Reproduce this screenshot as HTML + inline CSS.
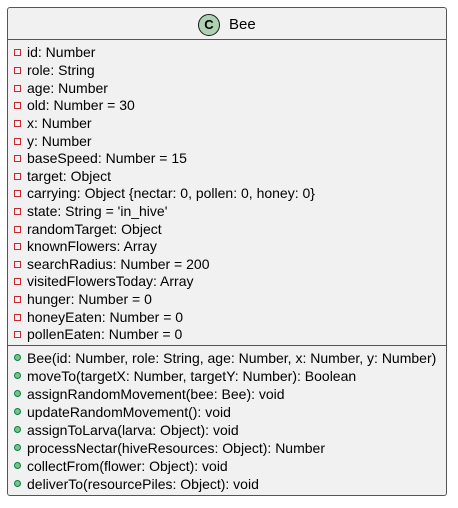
<!DOCTYPE html>
<html><head><meta charset="utf-8"><style>
html,body{margin:0;padding:0;background:#fff;width:458px;height:508px;overflow:hidden}
.box{position:absolute;left:7px;top:7px;width:440px;height:489px;background:#F1F1F1;border:1px solid #555;border-radius:3px;box-sizing:border-box}
.hr{position:absolute;left:8px;width:438px;height:1px;background:#555}
.t{position:absolute;left:27px;font:14px "Liberation Sans",sans-serif;color:#000;white-space:nowrap;line-height:16px}
.f::before{content:"";position:absolute;left:-13px;top:5px;width:5px;height:5px;border:1px solid #C82930}
.m::before{content:"";position:absolute;left:-13px;top:4px;width:7px;height:7px;border-radius:50%;background:#84BE84;border:0.5px solid #038048;box-sizing:border-box}
</style></head><body>
<div class="box"></div>
<div style="position:absolute;left:198px;top:14px;width:22px;height:22px;border-radius:50%;background:#ADD1B2;border:1px solid #181818;box-sizing:border-box;font:bold 13px 'Liberation Sans',sans-serif;text-align:center;line-height:20px">C</div>
<div style="position:absolute;left:229px;top:16px;font:15px 'Liberation Sans',sans-serif">Bee</div>
<div class="hr" style="top:39px"></div>
<div class="hr" style="top:345px"></div>
<div class="t f" style="top:44px">id: Number</div>
<div class="t f" style="top:62px">role: String</div>
<div class="t f" style="top:80px">age: Number</div>
<div class="t f" style="top:97px">old: Number = 30</div>
<div class="t f" style="top:115px">x: Number</div>
<div class="t f" style="top:133px">y: Number</div>
<div class="t f" style="top:150px">baseSpeed: Number = 15</div>
<div class="t f" style="top:168px">target: Object</div>
<div class="t f" style="top:185px">carrying: Object {nectar: 0, pollen: 0, honey: 0}</div>
<div class="t f" style="top:203px">state: String = 'in_hive'</div>
<div class="t f" style="top:221px">randomTarget: Object</div>
<div class="t f" style="top:238px">knownFlowers: Array</div>
<div class="t f" style="top:256px">searchRadius: Number = 200</div>
<div class="t f" style="top:273px">visitedFlowersToday: Array</div>
<div class="t f" style="top:291px">hunger: Number = 0</div>
<div class="t f" style="top:309px">honeyEaten: Number = 0</div>
<div class="t f" style="top:326px">pollenEaten: Number = 0</div>
<div class="t m" style="top:350px">Bee(id: Number, role: String, age: Number, x: Number, y: Number)</div>
<div class="t m" style="top:368px">moveTo(targetX: Number, targetY: Number): Boolean</div>
<div class="t m" style="top:386px">assignRandomMovement(bee: Bee): void</div>
<div class="t m" style="top:404px">updateRandomMovement(): void</div>
<div class="t m" style="top:422px">assignToLarva(larva: Object): void</div>
<div class="t m" style="top:440px">processNectar(hiveResources: Object): Number</div>
<div class="t m" style="top:458px">collectFrom(flower: Object): void</div>
<div class="t m" style="top:476px">deliverTo(resourcePiles: Object): void</div>
</body></html>
